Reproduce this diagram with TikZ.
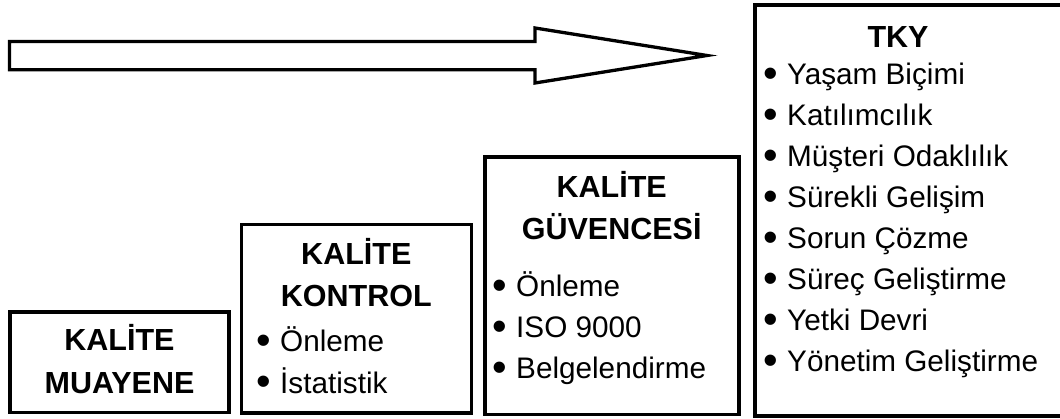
\documentclass[tikz,border=0pt]{standalone}
\usepackage{fontspec}
\setmainfont{Liberation Sans}
% enlarged bullet placed to the left of the item text
\newcommand\itembul{\llap{\raisebox{-2.5pt}{\scalebox{1.4}{•}}\hspace{9pt}}}
\begin{document}
\begin{tikzpicture}[x=1pt,y=-1pt,
  stagebox/.style={draw=black,line width=3.6pt,fill=white},
  title/.style={anchor=base,inner sep=0pt,font=\fontsize{30.5}{41}\selectfont\bfseries},
  item/.style={anchor=base west,inner sep=0pt,font=\fontsize{29.7}{41}\selectfont},
  arrowshape/.style={draw=black,line width=3.3pt,line join=miter,fill=white}]
\useasboundingbox (0,0) rectangle (1060,419);

% stage boxes (corner to corner)
\draw[stagebox] (10,312) rectangle (228.7,412.5);
\draw[stagebox] (241.3,224.7) rectangle (471.3,413);
\draw[stagebox] (484.7,157) rectangle (738.7,414.5);
\draw[stagebox] (754.7,5.3) rectangle (1070,416);

% progress arrow
\draw[arrowshape] (9.5,41.5) -- (535,41.5) -- (535,28) -- (707,55.5)
  -- (535,83) -- (535,69.8) -- (9.5,69.8) -- cycle;

% KALİTE MUAYENE
\node[title] (m1) at (119.5,351) {KALİTE};
\node[title] (m2) at (119.5,393) {MUAYENE};

% KALİTE KONTROL
\node[title] (k1) at (356.3,265) {KALİTE};
\node[title] (k2) at (356.3,307) {KONTROL};
\node[item] (k3) at (280,352) {\itembul Önleme};
\node[item] (k4) at (280,393) {\itembul İstatistik};

% KALİTE GÜVENCESİ
\node[title] (g1) at (611.7,198) {KALİTE};
\node[title] (g2) at (611.7,240) {GÜVENCESİ};
\node[item] (g3) at (516,297) {\itembul Önleme};
\node[item] (g4) at (516,338) {\itembul ISO 9000};
\node[item] (g5) at (516,379) {\itembul Belgelendirme};

% TKY
\node[title] (t0) at (898,48) {TKY};
\node[item] (t1) at (787,85) {\itembul Yaşam Biçimi};
\node[item] (t2) at (787,126) {\itembul Katılımcılık};
\node[item] (t3) at (787,167) {\itembul Müşteri Odaklılık};
\node[item] (t4) at (787,208) {\itembul Sürekli Gelişim};
\node[item] (t5) at (787,249) {\itembul Sorun Çözme};
\node[item] (t6) at (787,290) {\itembul Süreç Geliştirme};
\node[item] (t7) at (787,331) {\itembul Yetki Devri};
\node[item] (t8) at (787,372) {\itembul Yönetim Geliştirme};
\end{tikzpicture}
\end{document}
